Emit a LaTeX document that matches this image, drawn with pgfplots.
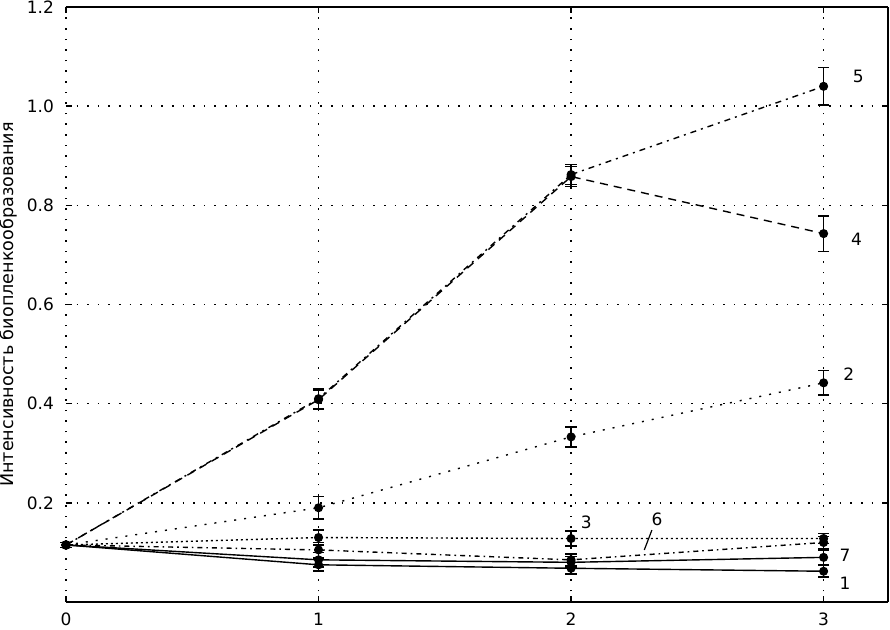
\documentclass[border=0pt]{standalone}
\usepackage{fontspec}
\setmainfont{DejaVu Sans}
\usepackage{pgfplots}
\pgfplotsset{compat=1.18}

\pgfplotsset{
  ser/.style={black, line width=0.7pt, mark=*, mark size=1.9pt,
    mark options={solid},
    error bars/y dir=both, error bars/y explicit,
    error bars/error bar style={solid, line width=0.7pt},
    error bars/error mark options={rotate=90, mark size=2.8pt, solid, line width=0.8pt}},
}

\begin{document}
\begin{tikzpicture}
\begin{axis}[
  scale only axis, width=411pt, height=297.5pt,
  xmin=0, xmax=3.255, ymin=0, ymax=1.2,
  separate axis lines,
  x axis line style={line width=1pt},
  y axis line style={draw=none},
  xtick={0,1,2,3}, xticklabels={0,1,2,3},
  ytick={0.2,0.4,0.6,0.8,1.0,1.2},
  yticklabels={0.2,0.4,0.6,0.8,1.0,1.2},
  tick align=inside, major tick length=3pt,
  tick style={black, line width=0.8pt},
  grid=major,
  grid style={black, line width=0.8pt, dash pattern=on 0.8pt off 4.5pt},
  tick label style={font=\fontsize{8.5}{10}\selectfont},
  xticklabel style={yshift=-2pt},
  yticklabel style={xshift=-2.5pt},
  ylabel={Интенсивность биопленкообразования},
  every axis y label/.style={at={(axis description cs:-0.07,0.5)}, rotate=90,
    anchor=center, font=\fontsize{8.8}{10}\selectfont},
  clip=false,
]
\draw[line width=1pt] (rel axis cs:1,0) -- (rel axis cs:1,1);
\coordinate (sw) at (rel axis cs:0,0);
\coordinate (ne) at (rel axis cs:1,1);

% 1
\addplot[ser] coordinates {(0,0.115) +- (0,0.005) (1,0.075) +- (0,0.012) (2,0.068) +- (0,0.012) (3,0.062) +- (0,0.012)};
% 7
\addplot[ser] coordinates {(0,0.115) +- (0,0.005) (1,0.085) +- (0,0.015) (2,0.080) +- (0,0.012) (3,0.090) +- (0,0.015)};
% 3
\addplot[ser, dash pattern=on 1pt off 1.5pt] coordinates {(0,0.115) +- (0,0.005) (1,0.130) +- (0,0.015) (2,0.128) +- (0,0.015) (3,0.128) +- (0,0.010)};
% 6
\addplot[ser, dash pattern=on 2.5pt off 2pt on 0.8pt off 2pt] coordinates {(0,0.115) +- (0,0.005) (1,0.105) +- (0,0.015) (2,0.085) +- (0,0.012) (3,0.120) +- (0,0.012)};
% 2
\addplot[ser, dash pattern=on 1pt off 4pt] coordinates {(0,0.115) +- (0,0.005) (1,0.190) +- (0,0.023) (2,0.333) +- (0,0.020) (3,0.442) +- (0,0.025)};
% 4
\addplot[ser, dash pattern=on 4pt off 3pt] coordinates {(0,0.115) +- (0,0.005) (1,0.408) +- (0,0.020) (2,0.858) +- (0,0.020) (3,0.743) +- (0,0.036)};
% 5
\addplot[ser, dash pattern=on 3pt off 2.5pt on 1pt off 2.5pt] coordinates {(0,0.115) +- (0,0.005) (1,0.410) +- (0,0.020) (2,0.862) +- (0,0.020) (3,1.040) +- (0,0.038)};

\begin{scope}[font=\fontsize{8.5}{10}\selectfont]
\node at (axis cs:3.137,1.06) {5};
\node at (axis cs:3.13,0.731) {4};
\node at (axis cs:3.10,0.459) {2};
\node at (axis cs:3.085,0.095) {7};
\node at (axis cs:3.085,0.038) {1};
\node at (axis cs:2.06,0.16) {3};
\node at (axis cs:2.34,0.166) {6};
\end{scope}
\draw[black, line width=0.6pt] (axis cs:2.29,0.105) -- (axis cs:2.32,0.145);
\end{axis}
\pgfresetboundingbox
\path[use as bounding box] ([shift={(-33pt,-14pt)}]sw) rectangle ([shift={(1pt,3.5pt)}]ne);
\end{tikzpicture}
\end{document}
